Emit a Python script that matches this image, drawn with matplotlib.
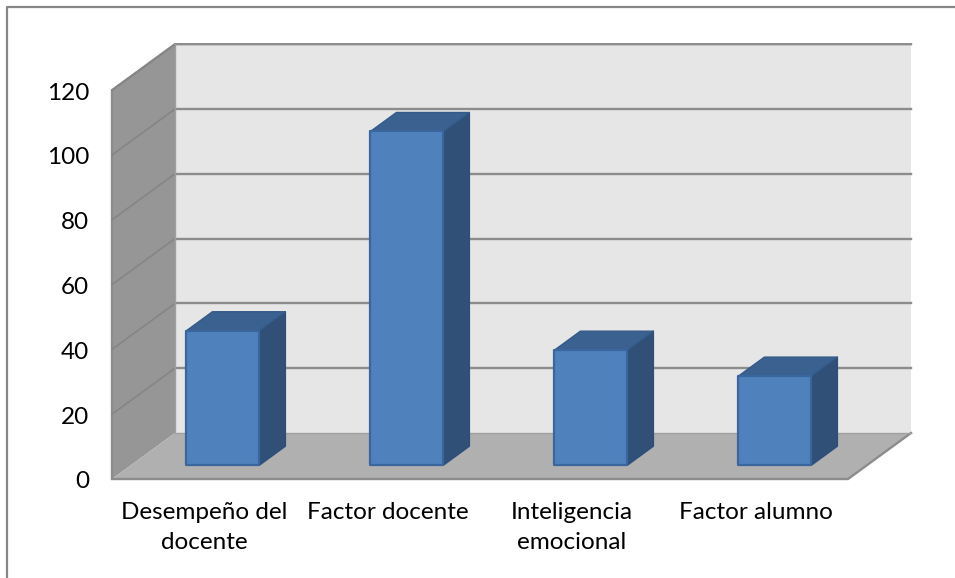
"""Excel style 3D column chart, drawn by hand with a simple oblique projection."""
import matplotlib
matplotlib.use("Agg")
import matplotlib.pyplot as plt
from matplotlib.patches import Polygon

categories = ["Desempeño del\ndocente", "Factor docente", "Inteligencia\nemocional", "Factor alumno"]
values = [41.5, 103, 35.5, 27.5]
ticks = [0, 20, 40, 60, 80, 100, 120]

W, H = 955, 578
# projection, all in image pixels
X0, X1 = 112, 848      # front edge of the floor
Y0 = 479               # value 0 at the front
PX_PER_UNIT = 3.24
DX, DY = 63, -46       # full depth of the box
BAR_DX, BAR_DY = 26, -19
BAR_W = 73
BAR_FRAC = 0.3         # how far into the depth the bar front sits
GRID = "#8c8c8c"


def to_xy(frac, v, depth=0.0):
    """frac along the category axis, value, depth 0..1 -> pixel position"""
    return (X0 + frac * (X1 - X0) + depth * DX,
            Y0 - v * PX_PER_UNIT + depth * DY)


def box_poly(ax, pts, fc, ec, lw=1.5, z=1):
    ax.add_patch(Polygon(pts, closed=True, facecolor=fc, edgecolor=ec, lw=lw,
                         joinstyle="round", zorder=z))


fig = plt.figure(figsize=(W / 100, H / 100), dpi=100)
ax = fig.add_axes([0, 0, 1, 1])
ax.set_xlim(0, W)
ax.set_ylim(H, 0)
ax.axis("off")
plt.rcParams["font.family"] = ["Lato", "DejaVu Sans"]

# outer chart frame, right and bottom run off the picture
ax.plot([W, 6.5, 6.5], [7, 7, H], color="#868686", lw=1.6, zorder=0)

vmax = ticks[-1]
# back wall, side wall, floor
box_poly(ax, [to_xy(0, 0, 1), to_xy(1, 0, 1), to_xy(1, vmax, 1), to_xy(0, vmax, 1)],
         "#e6e6e6", "none", lw=0)
box_poly(ax, [to_xy(0, 0), to_xy(0, 0, 1), to_xy(0, vmax, 1), to_xy(0, vmax)],
         "#969696", "none", lw=0)
box_poly(ax, [to_xy(0, 0), to_xy(1, 0), to_xy(1, 0, 1), to_xy(0, 0, 1)],
         "#b0b0b0", "none", lw=0, z=1)

# gridlines go along the side wall and the back wall
for t in ticks:
    if t == 0:
        pts = [to_xy(1, 0, 1), to_xy(1, 0), to_xy(0, 0), to_xy(0, vmax), to_xy(0, vmax, 1), to_xy(1, vmax, 1)]
        ax.plot([p[0] for p in pts], [p[1] for p in pts], color=GRID, lw=1.7, zorder=2,
                solid_joinstyle="miter")
    else:
        side = [to_xy(0, t), to_xy(0, t, 1)]
        ax.plot([p[0] for p in side], [p[1] for p in side], color="#858585", lw=1.2, zorder=2)
        if t != vmax:
            back = [to_xy(0, t, 1), to_xy(1, t, 1)]
            ax.plot([p[0] for p in back], [p[1] for p in back], color=GRID, lw=1.7, zorder=2)
    ax.text(X0 - 23, Y0 - t * PX_PER_UNIT + 3, str(t), ha="right", va="center",
            fontsize=17.5, color="black")
ax.plot(*zip(to_xy(0, 0, 1), to_xy(1, 0, 1)), color="#a0a0a0", lw=1.0, zorder=2)
ax.plot(*zip(to_xy(0, 0, 1), to_xy(0, vmax, 1)), color="#a0a0a0", lw=1.0, zorder=2)

# bars
n = len(categories)
for i, (cat, v) in enumerate(zip(categories, values)):
    cx = (i + 0.5) / n
    xl = to_xy(cx, 0, BAR_FRAC)[0] - BAR_W / 2
    xr = xl + BAR_W
    yb = to_xy(cx, 0, BAR_FRAC)[1]
    yt = yb - v * PX_PER_UNIT
    box_poly(ax, [(xr, yb), (xr + BAR_DX, yb + BAR_DY), (xr + BAR_DX, yt + BAR_DY), (xr, yt)],
             "#305078", "#2f4f7a", lw=1.0, z=3)
    box_poly(ax, [(xl, yt), (xr, yt), (xr + BAR_DX, yt + BAR_DY), (xl + BAR_DX, yt + BAR_DY)],
             "#3a6190", "#345a88", lw=1.0, z=3)
    box_poly(ax, [(xl, yb), (xr, yb), (xr, yt), (xl, yt)],
             "#4f81bd", "#3a669e", lw=1.6, z=4)
    ax.text(to_xy(cx, 0)[0], 502, cat, ha="center", va="top", fontsize=17.5,
            color="black", linespacing=1.55)

fig.savefig("out.png", dpi=100)
